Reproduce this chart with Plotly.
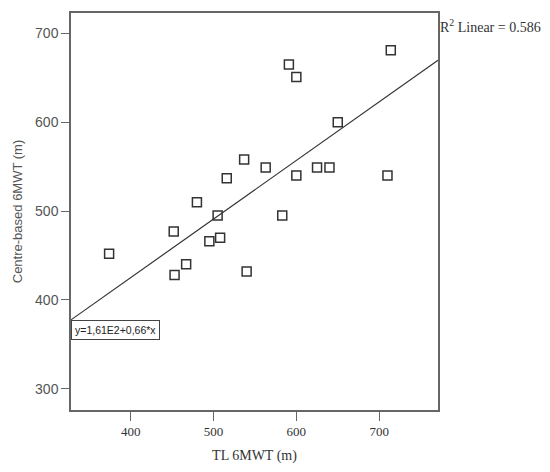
import plotly.graph_objects as go

tl_6mwt = [374, 452, 453, 467, 480, 495, 505, 508, 516, 537, 540,
           563, 583, 591, 600, 600, 625, 640, 650, 710, 714]
centre_6mwt = [452, 477, 428, 440, 510, 466, 495, 470, 537, 558, 432,
               549, 495, 665, 651, 540, 549, 549, 600, 540, 681]

fit_intercept = 161
fit_slope = 0.66
r2_linear = 0.586

x_range = [328, 771]
y_range = [276, 723]
x_ticks = [400, 500, 600, 700]
y_ticks = [300, 400, 500, 600, 700]

SERIF = "Liberation Serif"
SANS = "Liberation Sans"
INK = "#333333"
FRAME = "#666666"

fig = go.Figure()

line_x = x_range
line_y = [fit_intercept + fit_slope * v for v in line_x]
fig.add_trace(
    go.Scatter(
        x=line_x,
        y=line_y,
        mode="lines",
        line=dict(color=INK, width=1.2),
        hoverinfo="skip",
    )
)

fig.add_trace(
    go.Scatter(
        x=tl_6mwt,
        y=centre_6mwt,
        mode="markers",
        marker=dict(symbol="square-open", size=9, color=INK,
                    line=dict(width=1.5, color=INK)),
        hovertemplate="TL %{x}<br>Centre %{y}<extra></extra>",
    )
)

fig.add_annotation(
    x=x_range[0], y=line_y[0], xref="x", yref="y",
    xanchor="left", yanchor="top",
    text=f"y={fit_intercept / 100:.2f}E2+{fit_slope:.2f}*x".replace(".", ","),
    showarrow=False,
    font=dict(family=SANS, size=10.5, color="#222222"),
    bordercolor="#444444", borderwidth=1, borderpad=3,
    bgcolor="white",
)

fig.add_annotation(
    x=1.0, y=1.0, xref="paper", yref="paper",
    xanchor="left", yanchor="top", yshift=-2,
    text=f"R<sup>2</sup> Linear = {r2_linear}",
    showarrow=False,
    font=dict(family=SERIF, size=14, color=INK),
)

# the page body has an 8px margin, so the figure is a bit smaller and shifted
fig.update_layout(
    width=542,
    height=464,
    showlegend=False,
    plot_bgcolor="white",
    paper_bgcolor="white",
    margin=dict(l=63, r=112, t=5, b=62),
    xaxis=dict(
        range=x_range,
        tickvals=x_ticks,
        ticks="outside",
        ticklen=9,
        tickcolor=FRAME,
        showgrid=False,
        zeroline=False,
        showline=True,
        mirror=True,
        linecolor=FRAME,
        linewidth=1.5,
        automargin=False,
        tickfont=dict(family=SERIF, size=13, color=INK),
        title=dict(text="TL 6MWT (m)", font=dict(family=SERIF, size=14, color=INK),
                   standoff=12),
    ),
    yaxis=dict(
        range=y_range,
        tickvals=y_ticks,
        ticks="outside",
        ticklen=8,
        tickcolor=FRAME,
        showgrid=False,
        zeroline=False,
        showline=True,
        mirror=True,
        linecolor=FRAME,
        linewidth=1.5,
        automargin=False,
        tickfont=dict(family=SANS, size=14, color="#555555"),
        title=dict(text="Centre-based 6MWT (m)",
                   font=dict(family=SANS, size=13, color="#555555"),
                   standoff=10),
    ),
)

fig.write_html("out.html")
